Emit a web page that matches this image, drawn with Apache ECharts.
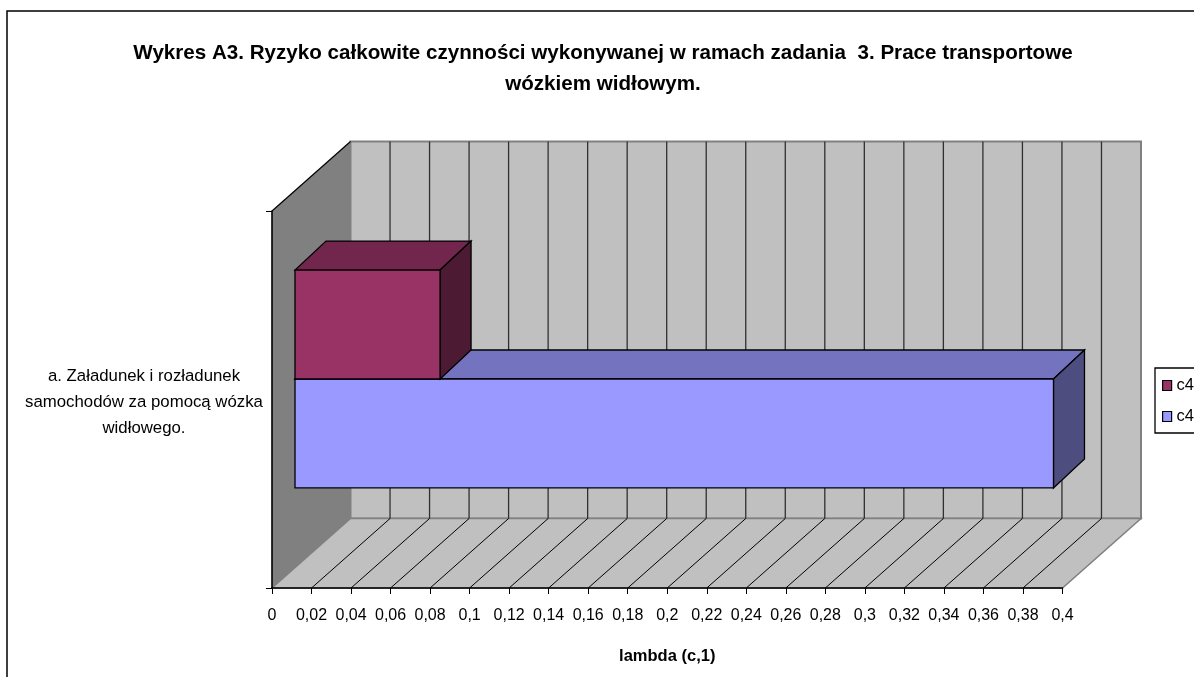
<!DOCTYPE html>
<html>
<head>
<meta charset="utf-8">
<style>
  html, body { margin: 0; padding: 0; background: #fff; overflow: hidden; }
  #chart { position: absolute; left: 0; top: 0; width: 1240px; height: 700px; }
</style>
<script src="https://cdn.jsdelivr.net/npm/echarts@6/dist/echarts.min.js"></script>
</head>
<body>
<div id="chart"></div>
<script>
// dane
var categories = ['a. Załadunek i rozładunek\nsamochodów za pomocą wózka\nwidłowego.'];
var seriesNames = ['c4-1', 'c4-2'];
var legendLabels = ['c4', 'c4'];
var magentaValues = [0.0734];
var blueValues = [0.3838];
var xTicks = [0, 0.02, 0.04, 0.06, 0.08, 0.1, 0.12, 0.14, 0.16, 0.18, 0.2, 0.22, 0.24, 0.26, 0.28, 0.3, 0.32, 0.34, 0.36, 0.38, 0.4];

// przesuniecia rzutu 3D (px)
var wallDx = 78.5, wallDy = -69.5;
var barOffX = 23, barOffY = -20.5;
var barDx = 31, barDy = -29;
var bandFill = 0.578;

var chart = echarts.init(document.getElementById('chart'));

function renderWalls(params, api) {
  var o = api.coord([0, 0]);
  var x0 = o[0];
  var bandH = api.size([0, 1])[1];
  var yBottom = o[1] + bandH / 2;
  var yTop = o[1] - bandH / 2;
  var x1 = api.coord([xTicks[xTicks.length - 1], 0])[0];
  var kids = [];
  // lewa sciana
  kids.push({ type: 'polygon', shape: { points: [[x0, yTop], [x0 + wallDx, yTop + wallDy], [x0 + wallDx, yBottom + wallDy], [x0, yBottom]] },
    style: { fill: '#808080', stroke: null } });
  // tylna sciana
  kids.push({ type: 'rect', shape: { x: x0 + wallDx, y: yTop + wallDy, width: x1 - x0, height: yBottom - yTop },
    style: { fill: '#c0c0c0', stroke: '#808080', lineWidth: 2 } });
  // podloga
  kids.push({ type: 'polygon', shape: { points: [[x0, yBottom], [x1, yBottom], [x1 + wallDx, yBottom + wallDy], [x0 + wallDx, yBottom + wallDy]] },
    style: { fill: '#c0c0c0', stroke: '#808080', lineWidth: 1.5 } });
  xTicks.forEach(function (t, i) {
    var x = api.coord([t, 0])[0];
    if (i > 0 && i < xTicks.length - 1) {
      kids.push({ type: 'line', shape: { x1: x + wallDx, y1: yTop + wallDy, x2: x + wallDx, y2: yBottom + wallDy },
        style: { stroke: '#303030', lineWidth: 1.3 } });
      kids.push({ type: 'line', shape: { x1: x, y1: yBottom, x2: x + wallDx, y2: yBottom + wallDy },
        style: { stroke: '#000', lineWidth: 1 } });
    }
  });
  // gorna krawedz lewej sciany
  kids.push({ type: 'line', shape: { x1: x0, y1: yTop, x2: x0 + wallDx, y2: yTop + wallDy },
    style: { stroke: '#000', lineWidth: 1.2 } });
  return { type: 'group', children: kids };
}

function barRenderer(upper, front, top, side) {
  return function (params, api) {
    var o = api.coord([0, api.value(1)]);
    var bandH = api.size([0, 1])[1];
    var h = bandH * bandFill / 2;
    var xa = o[0] + barOffX;
    var xb = api.coord([api.value(0), api.value(1)])[0] + barOffX;
    var cy = o[1] + barOffY;
    var ya = upper ? cy - h : cy;
    var yb = ya + h;
    var line = { stroke: '#000', lineWidth: 1.3, lineJoin: 'miter' };
    return { type: 'group', children: [
      { type: 'polygon', shape: { points: [[xa, ya], [xb, ya], [xb + barDx, ya + barDy], [xa + barDx, ya + barDy]] },
        style: Object.assign({ fill: top }, line) },
      { type: 'polygon', shape: { points: [[xb, ya], [xb + barDx, ya + barDy], [xb + barDx, yb + barDy], [xb, yb]] },
        style: Object.assign({ fill: side }, line) },
      { type: 'rect', shape: { x: xa, y: ya, width: xb - xa, height: h },
        style: Object.assign({ fill: front }, line) }
    ] };
  };
}

var option = {
  backgroundColor: '#fff',
  animation: false,
  title: {
    text: 'Wykres A3. Ryzyko całkowite czynności wykonywanej w ramach zadania  3. Prace transportowe\nwózkiem widłowym.',
    left: 598,
    top: 33,
    textAlign: 'center',
    textStyle: { fontFamily: 'Liberation Sans', fontSize: 20.6, fontWeight: 'bold', color: '#000', lineHeight: 31 }
  },
  legend: {
    data: seriesNames,
    orient: 'vertical',
    left: 1155,
    top: 368,
    padding: [9, 14, 8, 7],
    itemWidth: 9,
    itemHeight: 10,
    itemGap: 14,
    icon: 'rect',
    backgroundColor: '#fff',
    borderColor: '#000',
    borderWidth: 1.3,
    itemStyle: { borderColor: '#000', borderWidth: 1.2 },
    textStyle: { fontFamily: 'Liberation Sans', fontSize: 16.5, color: '#000' },
    formatter: function (name) { return legendLabels[seriesNames.indexOf(name)]; }
  },
  grid: { left: 272, top: 211, width: 790.5, height: 377, containLabel: false },
  xAxis: {
    type: 'value',
    min: 0,
    max: 0.4,
    interval: 0.02,
    z: 6,
    name: 'lambda (c,1)',
    nameLocation: 'middle',
    nameGap: 60,
    nameTextStyle: { fontFamily: 'Liberation Sans', fontSize: 16.5, fontWeight: 'bold', color: '#000' },
    splitLine: { show: false },
    axisLine: { show: true, onZero: false, lineStyle: { color: '#000', width: 1.6 } },
    axisTick: { show: true, length: 6, lineStyle: { color: '#000', width: 1 } },
    axisLabel: {
      fontFamily: 'Liberation Sans', fontSize: 16, color: '#000', margin: 20, hideOverlap: false,
      formatter: function (v) { return String(v).replace('.', ','); }
    }
  },
  yAxis: {
    type: 'category',
    data: categories,
    z: 6,
    axisLine: { show: true, lineStyle: { color: '#000', width: 1.6 } },
    axisTick: { show: true, length: 6, lineStyle: { color: '#000', width: 1 } },
    axisLabel: {
      margin: 128,
      align: 'center',
      // pusta cienka linia na gorze obniza etykiete o ok. 3 px
      formatter: function (v) {
        return '{s| }\n' + v.split('\n').map(function (l) { return '{l|' + l + '}'; }).join('\n');
      },
      rich: {
        s: { fontSize: 1, lineHeight: 6 },
        l: { fontFamily: 'Liberation Sans', fontSize: 16.8, color: '#000', lineHeight: 26, align: 'center' }
      }
    }
  },
  series: [
    { type: 'custom', name: 'walls', z: 1, clip: false, silent: true, renderItem: renderWalls,
      encode: { x: 0, y: 1 }, data: [[0, 0]] },
    { type: 'custom', name: seriesNames[1], z: 2, clip: false,
      itemStyle: { color: '#9999ff' },
      renderItem: barRenderer(false, '#9999ff', '#7373bf', '#4d4d80'),
      encode: { x: 0, y: 1 }, data: blueValues.map(function (v, i) { return [v, i]; }) },
    { type: 'custom', name: seriesNames[0], z: 3, clip: false,
      itemStyle: { color: '#993366' },
      renderItem: barRenderer(true, '#993366', '#73264d', '#4d1a33'),
      encode: { x: 0, y: 1 }, data: magentaValues.map(function (v, i) { return [v, i]; }) }
  ],
  graphic: [{
    type: 'rect', z: 0, silent: true,
    shape: { x: 7, y: 11, width: 1300, height: 800 },
    style: { fill: 'none', stroke: '#000', lineWidth: 1.5 }
  }]
};
chart.setOption(option);
</script>
</body>
</html>
